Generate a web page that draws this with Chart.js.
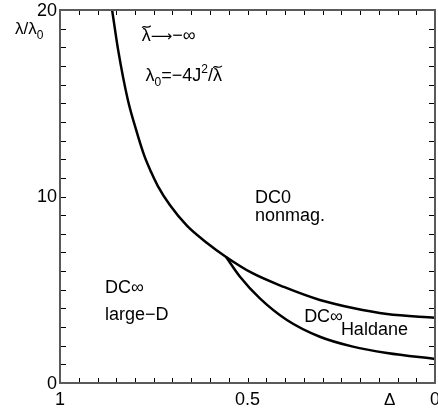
<!DOCTYPE html>
<html>
<head>
<meta charset="utf-8">
<script src="https://cdn.jsdelivr.net/npm/chart.js@4"></script>
<style>
  html, body { margin: 0; padding: 0; background: #fff; }
  #wrap { width: 438px; height: 412px; }
</style>
</head>
<body>
<div id="wrap"><canvas id="grafico" width="438" height="412"></canvas></div>
<script>
// upper boundary (DC0 nonmag. above it)
const upperDelta = [0.861, 0.845, 0.819, 0.797, 0.776, 0.757, 0.739, 0.707, 0.661, 0.608, 0.557, 0.488, 0.403, 0.307, 0.219, 0.128, 0.0];
const upperLambda = [20.0, 17.86, 15.17, 13.57, 12.23, 11.31, 10.56, 9.54, 8.42, 7.51, 6.76, 5.90, 5.15, 4.45, 4.02, 3.70, 3.50];
// lower boundary (Haldane region between)
const lowerDelta = [0.557, 0.52, 0.467, 0.395, 0.307, 0.219, 0.128, 0.0];
const lowerLambda = [6.76, 5.70, 4.54, 3.38, 2.48, 1.95, 1.61, 1.29];

const xTickValues = [1, 0.5, 0];
const xTickLabels = ["1", "0.5", "0"];
const yTickValues = [0, 10, 20];
const yTickLabels = ["0", "10", "20"];

const FONT = "Liberation Sans, Arial, Helvetica, sans-serif";

// text pieces: [x, y, parts]  (x,y in data units, y = baseline)
// tilde: lambda with tilde on top
const anotacoes = [
  [0.782, 18.35, [{ t: "λ", tilde: true }, { t: "⟶", f: "DejaVu Sans", s: 15 }, { t: "−∞" }]],
  [0.772, 16.2, [{ t: "λ" }, { t: "0", sub: true }, { t: "=−4J" }, { t: "2", sup: true }, { t: "/" }, { t: "λ", tilde: true }]],
  [0.48, 9.65, [{ t: "DC0" }]],
  [0.48, 8.7, [{ t: "nonmag." }]],
  [0.88, 4.8, [{ t: "DC∞" }]],
  [0.88, 3.4, [{ t: "large−D" }]],
  [0.349, 3.27, [{ t: "DC∞" }]],
  [0.251, 2.58, [{ t: "Haldane" }]]
];

function desenharPartes(ctx, x, y, partes, tam) {
  let cx = x;
  partes.forEach(p => {
    const small = p.sub || p.sup;
    const size = p.s || (small ? Math.round(tam * 0.68) : tam);
    ctx.font = size + "px " + (p.f || FONT);
    const dy = p.sub ? tam * 0.28 : (p.sup ? -tam * 0.42 : 0);
    ctx.fillText(p.t, cx, y + dy);
    const w = ctx.measureText(p.t).width;
    if (p.tilde) {
      const ty = y - tam * 0.78;
      ctx.save();
      ctx.strokeStyle = ctx.fillStyle;
      ctx.lineWidth = 1.2;
      ctx.beginPath();
      ctx.moveTo(cx + 0.5, ty + 1);
      ctx.bezierCurveTo(cx + w * 0.3, ty - 2.5, cx + w * 0.55, ty + 3, cx + w, ty - 1);
      ctx.stroke();
      ctx.restore();
    }
    cx += w;
  });
}

const eixosPlugin = {
  id: "eixos",
  afterDatasetsDraw(chart) {
    const { ctx, chartArea: a, scales } = chart;
    const sx = scales.x, sy = scales.y;
    ctx.save();

    // inward ticks on all four sides
    ctx.strokeStyle = "#000";
    ctx.lineWidth = 1;
    ctx.beginPath();
    for (let i = 0; i <= 20; i++) {
      const px = Math.round(sx.getPixelForValue(i * 0.05)) + 0.5;
      ctx.moveTo(px, a.bottom); ctx.lineTo(px, a.bottom - 5);
      ctx.moveTo(px, a.top); ctx.lineTo(px, a.top + 5);
    }
    for (let i = 0; i <= 20; i++) {
      const py = Math.round(sy.getPixelForValue(i)) + 0.5;
      ctx.moveTo(a.left, py); ctx.lineTo(a.left + 6, py);
      ctx.moveTo(a.right, py); ctx.lineTo(a.right - 6, py);
    }
    ctx.stroke();

    // frame
    ctx.strokeStyle = "#5a5a5a";
    ctx.lineWidth = 2;
    ctx.strokeRect(a.left, a.top, a.right - a.left, a.bottom - a.top);

    // tick labels
    ctx.fillStyle = "#000";
    ctx.font = "18px " + FONT;
    ctx.textAlign = "center";
    ctx.textBaseline = "alphabetic";
    xTickValues.forEach((v, i) => {
      ctx.fillText(xTickLabels[i], sx.getPixelForValue(v), a.bottom + 22);
    });
    ctx.textAlign = "right";
    ctx.textBaseline = "middle";
    yTickValues.forEach((v, i) => {
      ctx.fillText(yTickLabels[i], a.left - 3, sy.getPixelForValue(v) + 1);
    });

    // axis titles
    ctx.textAlign = "left";
    ctx.textBaseline = "alphabetic";
    desenharPartes(ctx, 15, 34, [{ t: "λ/λ" }, { t: "0", sub: true }], 17);
    ctx.font = "17px " + FONT;
    ctx.fillText("Δ", 384, 405);

    // region labels
    anotacoes.forEach(([x, y, partes]) => {
      desenharPartes(ctx, sx.getPixelForValue(x), sy.getPixelForValue(y), partes, 18);
    });
    ctx.restore();
  }
};

const toPts = (xs, ys) => xs.map((x, i) => ({ x: x, y: ys[i] }));

new Chart(document.getElementById("grafico"), {
  type: "scatter",
  data: {
    datasets: [
      {
        data: toPts(upperDelta, upperLambda),
        showLine: true,
        borderColor: "#000",
        borderWidth: 2.5,
        pointRadius: 0,
        cubicInterpolationMode: "monotone"
      },
      {
        data: toPts(lowerDelta, lowerLambda),
        showLine: true,
        borderColor: "#000",
        borderWidth: 2.5,
        pointRadius: 0,
        cubicInterpolationMode: "monotone"
      }
    ]
  },
  options: {
    responsive: false,
    animation: false,
    events: [],
    layout: { padding: { left: 60, right: 3, top: 10, bottom: 29 } },
    plugins: { legend: { display: false }, tooltip: { enabled: false } },
    scales: {
      x: { type: "linear", min: 0, max: 1, reverse: true, display: false },
      y: { type: "linear", min: 0, max: 20, display: false }
    }
  },
  plugins: [eixosPlugin]
});
</script>
</body>
</html>
